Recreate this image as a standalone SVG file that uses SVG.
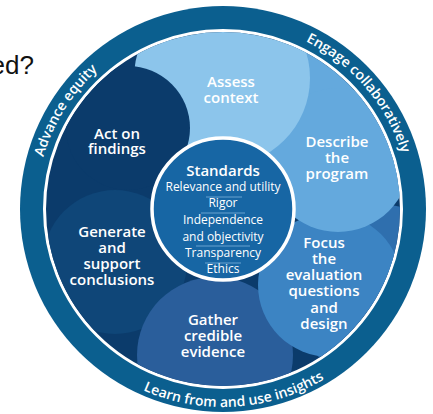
<svg xmlns="http://www.w3.org/2000/svg" width="433" height="414" viewBox="0 0 433 414">
<style>
.lbl{font-family:"Open Sans","Liberation Sans",sans-serif;font-weight:600;font-size:15px;fill:#fff;text-anchor:middle}
.std{font-family:"Open Sans","Liberation Sans",sans-serif;font-weight:400;font-size:12px;fill:#fff;text-anchor:middle}
.ring{font-family:"Open Sans","Liberation Sans",sans-serif;font-weight:600;font-size:14px;fill:#fff;text-anchor:middle}
.div{stroke:#7fb2dc;stroke-width:0.8}
</style>
<defs>
<clipPath id="inner"><circle cx="223" cy="209" r="177"/></clipPath>
<path id="pAdv" d="M57.9,296.8 A187,187 0 0 1 229.5,22.1"/>
<path id="pEng" d="M188.9,25.1 A187,187 0 0 1 399.3,271.4"/>
<path id="pLearn" d="M57.9,318.3 A198,198 0 0 0 400.2,297.3"/>
</defs>
<rect width="433" height="414" fill="#fff"/>
<text x="34" y="74" font-family="Liberation Sans, Arial, sans-serif" font-size="26" fill="#111" text-anchor="end">ed?</text>
<g id="ring">
<circle cx="223" cy="209" r="203" fill="#0b5f8f"/>
<circle cx="223" cy="209" r="178.5" fill="#0b3b6b" stroke="#fff" stroke-width="3"/>
<text class="ring"><textPath href="#pAdv" startOffset="50%">Advance equity</textPath></text>
<text class="ring"><textPath href="#pEng" startOffset="50%">Engage collaboratively</textPath></text>
<text class="ring"><textPath href="#pLearn" startOffset="50%">Learn from and use insights</textPath></text>
</g>
<g id="generate">
<circle cx="115" cy="262" r="72" fill="#0f4678" clip-path="url(#inner)"/>
<text class="lbl" x="112" y="237">Generate</text>
<text class="lbl" x="112" y="253">and</text>
<text class="lbl" x="112" y="269">support</text>
<text class="lbl" x="112" y="285">conclusions</text>
</g>
<g id="gather">
<circle cx="215" cy="355" r="78" fill="#2a5e9b" clip-path="url(#inner)"/>
<text class="lbl" x="213" y="325">Gather</text>
<text class="lbl" x="213" y="341">credible</text>
<text class="lbl" x="213" y="357">evidence</text>
</g>
<g id="focus">
<circle cx="378" cy="292" r="88" fill="#2f6fae" clip-path="url(#inner)"/>
<circle cx="330" cy="285" r="72" fill="#3c84c3" clip-path="url(#inner)"/>
<text class="lbl" x="324" y="248">Focus</text>
<text class="lbl" x="324" y="264">the</text>
<text class="lbl" x="324" y="280">evaluation</text>
<text class="lbl" x="324" y="296">questions</text>
<text class="lbl" x="324" y="313">and</text>
<text class="lbl" x="324" y="329">design</text>
</g>
<g id="describe">
<circle cx="360" cy="110" r="95" fill="#64a9dd" clip-path="url(#inner)"/>
<circle cx="338" cy="160" r="72" fill="#64a9dd" clip-path="url(#inner)"/>
<text class="lbl" x="337" y="147">Describe</text>
<text class="lbl" x="337" y="163">the</text>
<text class="lbl" x="337" y="179">program</text>
</g>
<g id="assess">
<circle cx="222" cy="78" r="88" fill="#8cc5eb" clip-path="url(#inner)"/>
<text class="lbl" x="231" y="87">Assess</text>
<text class="lbl" x="231" y="103">context</text>
</g>
<g id="act">
<circle cx="128" cy="128" r="62" fill="#0b3b6b" clip-path="url(#inner)"/>
<text class="lbl" x="117" y="139">Act on</text>
<text class="lbl" x="117" y="154">findings</text>
</g>
<g id="standards">
<circle cx="223" cy="209" r="71" fill="#1766a4" stroke="#fff" stroke-width="3.5"/>
<text class="lbl" x="223" y="176">Standards</text>
<text class="std" x="223" y="191">Relevance and utility</text>
<line class="div" x1="206" y1="197" x2="242" y2="197"/>
<text class="std" x="223" y="207">Rigor</text>
<line class="div" x1="201" y1="213" x2="245" y2="213"/>
<text class="std" x="223" y="224">Independence</text>
<text class="std" x="223" y="241">and objectivity</text>
<line class="div" x1="196" y1="246" x2="250" y2="246"/>
<text class="std" x="223" y="257">Transparency</text>
<line class="div" x1="205" y1="263" x2="241" y2="263"/>
<text class="std" x="223" y="273">Ethics</text>
</g>
<g id="connectors"/>
</svg>
